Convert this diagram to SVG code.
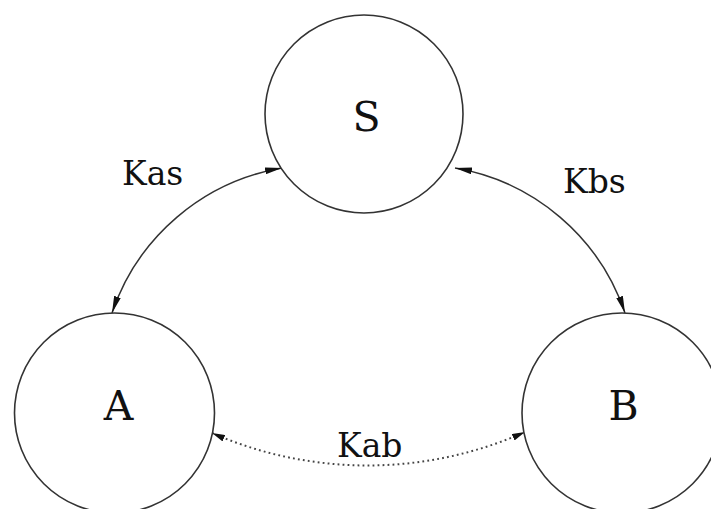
<svg xmlns="http://www.w3.org/2000/svg" width="711" height="509" viewBox="0 0 711 509">
  <style>
    .node { fill: #ffffff; stroke: #333333; stroke-width: 1.6; }
    .edge { fill: none; stroke: #333333; stroke-width: 1.5; }
    .dotted { fill: none; stroke: #444444; stroke-width: 2; stroke-dasharray: 1.8 3.2; }
    text { font-family: "DejaVu Serif", "Liberation Serif", serif; fill: #111111; }
    .big { font-size: 41px; text-anchor: middle; }
    .lbl { font-size: 33px; }
  </style>
  <defs>
    <marker id="arrow" markerUnits="userSpaceOnUse" viewBox="0 0 17 7" markerWidth="17" markerHeight="7" refX="17" refY="3.5" orient="auto-start-reverse">
      <path d="M0,0 L17,3.5 L0,7 Z" fill="#111111"/>
    </marker>
    <marker id="arrowSmall" markerUnits="userSpaceOnUse" viewBox="0 0 13 7" markerWidth="13" markerHeight="7" refX="13" refY="3.5" orient="auto-start-reverse">
      <path d="M0,0 L13,3.5 L0,7 Z" fill="#111111"/>
    </marker>
  </defs>

  <g id="connectors">
    <path id="edge-kas" class="edge" d="M112,313 A218,218 0 0 1 282,168" marker-start="url(#arrow)" marker-end="url(#arrow)"/>
    <path id="edge-kbs" class="edge" d="M455,168 A218,218 0 0 1 625,313" marker-start="url(#arrow)" marker-end="url(#arrow)"/>
    <path id="edge-kab" class="dotted" d="M212,433 A388,388 0 0 0 525,432" marker-start="url(#arrowSmall)" marker-end="url(#arrowSmall)"/>
    <text class="lbl" x="122" y="185">Kas</text>
    <text class="lbl" x="563" y="193">Kbs</text>
    <text class="lbl" x="337" y="457">Kab</text>
  </g>

  <g id="node-S">
    <circle class="node" cx="364" cy="114" r="99"/>
    <text class="big" x="366.5" y="131">S</text>
  </g>
  <g id="node-A">
    <circle class="node" cx="114.5" cy="413" r="100"/>
    <text class="big" x="118.5" y="420">A</text>
  </g>
  <g id="node-B">
    <circle class="node" cx="622" cy="413" r="100"/>
    <text class="big" x="623.5" y="420">B</text>
  </g>
</svg>
